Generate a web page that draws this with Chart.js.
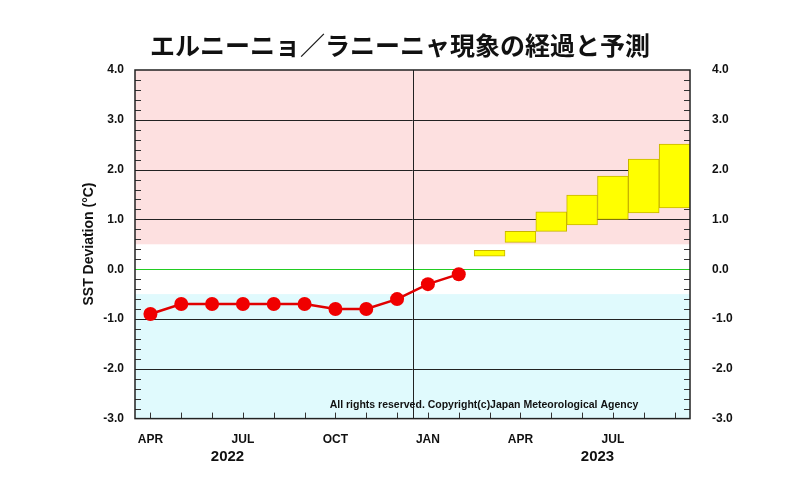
<!DOCTYPE html>
<html><head><meta charset="utf-8">
<script src="https://cdn.jsdelivr.net/npm/chart.js@4"></script>
<style>body{margin:0;background:#fff}#w{width:800px;height:494px}</style>
</head><body><div id="w"><canvas id="c"></canvas></div>
<script>
const monthIdx=[0,1,2,3,4,5,6,7,8,9,10]; // Apr 2022 .. Feb 2023
const observed=[-0.9,-0.7,-0.7,-0.7,-0.7,-0.7,-0.8,-0.8,-0.6,-0.3,-0.1];
const fcIdx=[11,12,13,14,15,16,17]; // Mar .. Sep 2023
const fcLow=[0.26,0.54,0.76,0.89,1.0,1.13,1.23];
const fcHigh=[0.38,0.76,1.15,1.49,1.87,2.21,2.51];
const monthLabels={0:'APR',3:'JUL',6:'OCT',9:'JAN',12:'APR',15:'JUL'};
const years=[{x:2.5,t:'2022'},{x:14.5,t:'2023'}];
const yTicks=[-3,-2,-1,0,1,2,3,4];

const F='Liberation Sans, Arial, sans-serif';
const deco={id:'deco',
 beforeDatasetsDraw(ch){const{ctx,chartArea:a,scales:{x,y}}=ch;ctx.save();
  ctx.fillStyle='#fde0e0';ctx.fillRect(a.left,y.getPixelForValue(4),a.width,y.getPixelForValue(0.5)-y.getPixelForValue(4));
  ctx.fillStyle='#e0fafd';ctx.fillRect(a.left,y.getPixelForValue(-0.5),a.width,y.getPixelForValue(-3)-y.getPixelForValue(-0.5));
  ctx.strokeStyle='#222';ctx.lineWidth=1;
  for(const v of yTicks){if(v===0||v===4||v===-3)continue;const py=Math.round(y.getPixelForValue(v))+0.5;ctx.beginPath();ctx.moveTo(a.left,py);ctx.lineTo(a.right,py);ctx.stroke();}
  ctx.strokeStyle='#22cc22';const p0=Math.round(y.getPixelForValue(0))+0.5;ctx.beginPath();ctx.moveTo(a.left,p0);ctx.lineTo(a.right,p0);ctx.stroke();
  ctx.strokeStyle='#222';const vx=Math.round(x.getPixelForValue(8.5))+0.5;ctx.beginPath();ctx.moveTo(vx,a.top);ctx.lineTo(vx,a.bottom);ctx.stroke();
  ctx.strokeStyle='#333';
  for(let v=-3;v<=4.001;v+=0.2){const py=Math.round(y.getPixelForValue(v))+0.5;const L=Math.abs(v-Math.round(v))<0.01?0:6;if(!L)continue;
   ctx.beginPath();ctx.moveTo(a.left,py);ctx.lineTo(a.left+L,py);ctx.moveTo(a.right,py);ctx.lineTo(a.right-L,py);ctx.stroke();}
  for(let m=0;m<=17;m++){const px=Math.round(x.getPixelForValue(m))+0.5;ctx.beginPath();ctx.moveTo(px,a.bottom);ctx.lineTo(px,a.bottom-6);ctx.stroke();}
  ctx.restore();},
 afterDraw(ch){const{ctx,chartArea:a,scales:{x,y}}=ch;ctx.save();
  ctx.strokeStyle='#222';ctx.lineWidth=1.5;ctx.strokeRect(a.left,a.top,a.width,a.height);
  ctx.fillStyle='#111';ctx.font='bold 15px '+F;ctx.textAlign='center';ctx.textBaseline='middle';
  for(const yy of years)ctx.fillText(yy.t,x.getPixelForValue(yy.x),457);
  ctx.font='bold 10.5px '+F;ctx.fillText('All rights reserved. Copyright(c)Japan Meteorological Agency',484,405);
  ctx.translate(89,244);ctx.rotate(-Math.PI/2);ctx.font='bold 14px '+F;ctx.fillText('SST Deviation (°C)',0,0);
  ctx.restore();}};

new Chart(document.getElementById('c'),{
 data:{datasets:[
  {type:'bar',data:fcIdx.map((m,i)=>({x:m,y:[fcLow[i],fcHigh[i]]})),backgroundColor:'#ffff00',borderColor:'#c8b400',borderWidth:1,borderSkipped:false,barPercentage:1,categoryPercentage:1,order:2},
  {type:'line',data:monthIdx.map((m,i)=>({x:m,y:observed[i]})),borderColor:'#e00000',backgroundColor:'#f00000',borderWidth:2.5,pointRadius:7,pointBorderWidth:0,order:1}
 ]},
 options:{responsive:true,maintainAspectRatio:false,animation:false,
  layout:{padding:{left:0,right:0,top:0,bottom:41}},
  plugins:{legend:{display:false},tooltip:{enabled:false},
   title:{display:true,text:'エルニーニョ／ラニーニャ現象の経過と予測',font:{family:'Noto Sans CJK JP',size:25},color:'#111',padding:{top:30,bottom:10}}},
  scales:{
   x:{type:'linear',offset:false,min:-0.5,max:17.5,grid:{display:false,offset:false},border:{display:false},
    afterBuildTicks(s){s.ticks=Object.keys(monthLabels).map(k=>({value:+k}));},
    ticks:{autoSkip:false,maxRotation:0,callback:v=>monthLabels[v]||'',color:'#111',font:{family:F,weight:'bold',size:12},padding:6}},
   y:{min:-3,max:4,afterBuildTicks(s){s.ticks=yTicks.map(v=>({value:v}));},afterFit(s){s.width=135;},
    grid:{display:false},border:{display:false},ticks:{callback:v=>v.toFixed(1),color:'#111',font:{family:F,weight:'bold',size:12}}},
   y2:{position:'right',min:-3,max:4,afterBuildTicks(s){s.ticks=yTicks.map(v=>({value:v}));},afterFit(s){s.width=110;},
    grid:{display:false},border:{display:false},ticks:{callback:v=>v.toFixed(1),color:'#111',font:{family:F,weight:'bold',size:12},padding:14}}
  }},
 plugins:[deco]});
</script></body></html>
